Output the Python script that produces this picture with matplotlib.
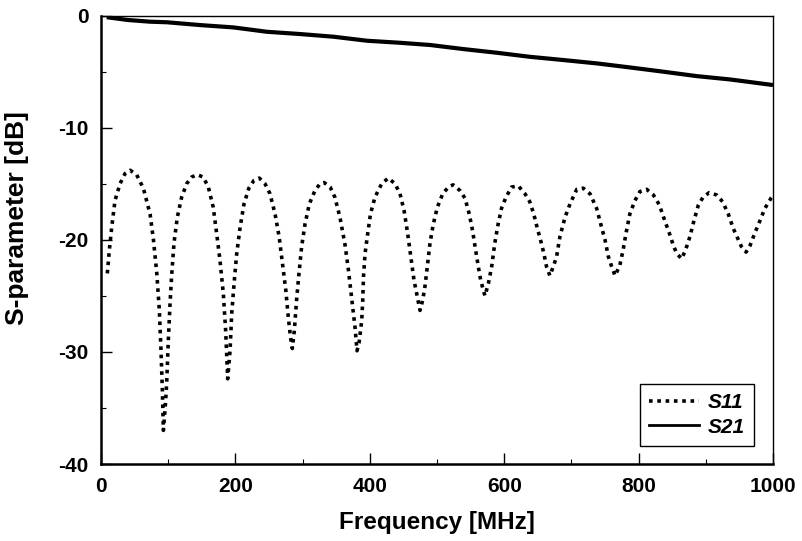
import matplotlib
matplotlib.use("Agg")
import matplotlib.pyplot as plt
from matplotlib.lines import Line2D

plt.rcParams['font.family'] = ['Liberation Sans', 'DejaVu Sans']
plt.rcParams['font.weight'] = 'bold'
plt.rcParams['axes.unicode_minus'] = False

# S11 data (MHz, dB)
s11_freq = [9.4, 12.4, 15.9, 20.8, 28.3, 35.7, 43.2, 53, 63, 73, 78, 83, 86.8, 89.3, 91.3, 92.8,
            95.5, 97.7, 100, 102.7, 105, 108.6, 113.5, 120, 127.5, 135, 143, 152, 159.7, 167, 172,
            177, 182, 185.5, 188.5, 192, 194.5, 198, 202, 207, 212.8, 220, 227.7, 235.6, 244,
            251.5, 259, 265, 270, 275, 278.7, 282, 284.7, 287.7, 291, 294.6, 298.6, 303.6, 310,
            318.5, 326, 332, 341, 348, 355.6, 363, 368, 371.5, 374.5, 378, 381, 384, 388, 389.5,
            390.6, 393, 397, 401, 407.7, 417.7, 427.5, 437.5, 445, 451, 456, 461, 465.8, 469.7,
            474.7, 478.7, 482, 485.6, 489.6, 494.5, 500.5, 508.5, 517, 524, 534, 541.7, 548, 553,
            557.4, 561.5, 565, 569, 571.4, 576.5, 581.4, 586, 591, 596, 602.7, 611, 621, 631, 638,
            644, 649, 654, 659, 663, 668, 673, 678, 683, 690.5, 698, 708, 717.7, 727.7, 737.6, 745,
            750, 755, 760, 765, 772, 777, 782, 787, 794.6, 802, 812, 822, 831, 839, 845.7, 851.7,
            856.6, 864, 870, 876.5, 882.4, 889, 896, 905, 916, 925, 933.5, 941, 948.5, 953, 960,
            966, 973, 980.6, 988, 997, 1000]
s11_db = [-23.0, -20.9, -18.9, -16.5, -15.0, -14.1, -13.8, -14.2, -15.4, -17.7, -20.0, -23.0,
          -26.3, -29.9, -33.4, -37.0, -35.0, -32.8, -29.2, -25.7, -23.3, -20.3, -18.0, -16.2,
          -15.0, -14.4, -14.2, -14.4, -15.3, -17.1, -19.4, -21.8, -24.8, -28.1, -32.4, -29.9,
          -26.6, -23.9, -21.2, -18.9, -16.8, -15.4, -14.7, -14.5, -15.0, -15.9, -17.7, -19.7,
          -22.1, -24.5, -26.9, -28.7, -29.7, -28.1, -25.4, -23.0, -20.6, -18.6, -16.8, -15.6,
          -15.0, -14.9, -15.3, -16.2, -18.0, -20.4, -22.6, -24.4, -26.0, -27.8, -29.9, -29.2,
          -27.2, -25.4, -23.3, -21.2, -19.4, -17.7, -16.2, -15.0, -14.5, -15.0, -15.9, -17.4,
          -19.3, -21.5, -23.6, -24.8, -26.3, -25.4, -24.2, -22.4, -20.3, -18.6, -17.1, -15.9,
          -15.3, -15.1, -15.6, -16.3, -17.7, -19.2, -20.9, -22.4, -23.6, -24.5, -25.0, -23.9,
          -22.4, -20.3, -18.6, -17.2, -16.2, -15.3, -15.2, -15.9, -16.6, -17.7, -18.9, -20.0,
          -21.2, -22.4, -23.2, -22.4, -21.5, -19.7, -18.0, -16.8, -15.5, -15.4, -15.9, -17.2,
          -18.9, -20.0, -21.5, -22.4, -23.2, -22.3, -20.9, -19.2, -17.7, -16.5, -15.7, -15.5,
          -16.0, -16.9, -18.3, -19.4, -20.5, -21.2, -21.7, -20.9, -19.7, -18.3, -16.9, -16.2,
          -15.8, -16.0, -16.6, -17.7, -19.0, -20.0, -20.6, -21.1, -20.5, -19.4, -18.3, -17.2,
          -16.3, -16.1]

# S21 data (MHz, dB)
s21_freq = [8.5, 40, 73, 98, 147, 197, 247, 296, 346, 396, 445, 490, 539, 589, 638, 688, 738,
            787, 837, 886, 936, 1000]
s21_db = [-0.15, -0.4, -0.55, -0.6, -0.85, -1.06, -1.45, -1.65, -1.89, -2.25, -2.43, -2.63,
          -2.99, -3.32, -3.68, -3.97, -4.27, -4.63, -5.01, -5.40, -5.70, -6.2]

series_labels = ['S11', 'S21']
x_ticks = [0, 200, 400, 600, 800, 1000]
y_ticks = [0, -10, -20, -30, -40]

fig = plt.figure(figsize=(8.03, 5.41), dpi=100)
ax = fig.add_axes([0.1258, 0.1423, 0.8368, 0.829])

ax.plot(s11_freq, s11_db, color='black', lw=2.6, dashes=(1.0, 1.3), dash_capstyle='butt')
ax.plot(s21_freq, s21_db, color='black', lw=3.0, solid_capstyle='butt')

ax.set_xlim(0, 1000)
ax.set_ylim(-40, 0)
ax.set_xticks(x_ticks)
ax.set_yticks(y_ticks)
ax.set_xticks([100, 300, 500, 700, 900], minor=True)
ax.set_yticks([-5, -15, -25, -35], minor=True)
ax.tick_params(which='major', direction='in', length=8, width=1.0, labelsize=15, pad=9)
ax.tick_params(which='minor', direction='in', length=3.5, width=0.8)
for lbl in ax.get_xticklabels() + ax.get_yticklabels():
    lbl.set_fontweight('bold')

ax.spines['left'].set_linewidth(1.8)
ax.spines['bottom'].set_linewidth(1.8)
ax.spines['top'].set_linewidth(1.0)
ax.spines['right'].set_linewidth(1.0)

ax.set_xlabel('Frequency [MHz]', fontsize=17.5, fontweight='bold', labelpad=11)
ax.set_ylabel('S-parameter [dB]', fontsize=19, fontweight='bold')
ax.yaxis.set_label_coords(-0.107, 0.549)

handles = [Line2D([], [], color='black', lw=2.6, dashes=(1.0, 1.3)),
           Line2D([], [], color='black', lw=2.0)]
leg = ax.legend(handles, series_labels, loc='lower right', bbox_to_anchor=(0.972, 0.04),
                borderaxespad=0, frameon=True, fancybox=False, framealpha=1,
                edgecolor='black', handlelength=2.4, handletextpad=0.4, labelspacing=0.25,
                borderpad=0.45, prop={'size': 15, 'weight': 'bold', 'style': 'italic'})
leg.get_frame().set_linewidth(1.0)

fig.savefig('out.png', dpi=100)
